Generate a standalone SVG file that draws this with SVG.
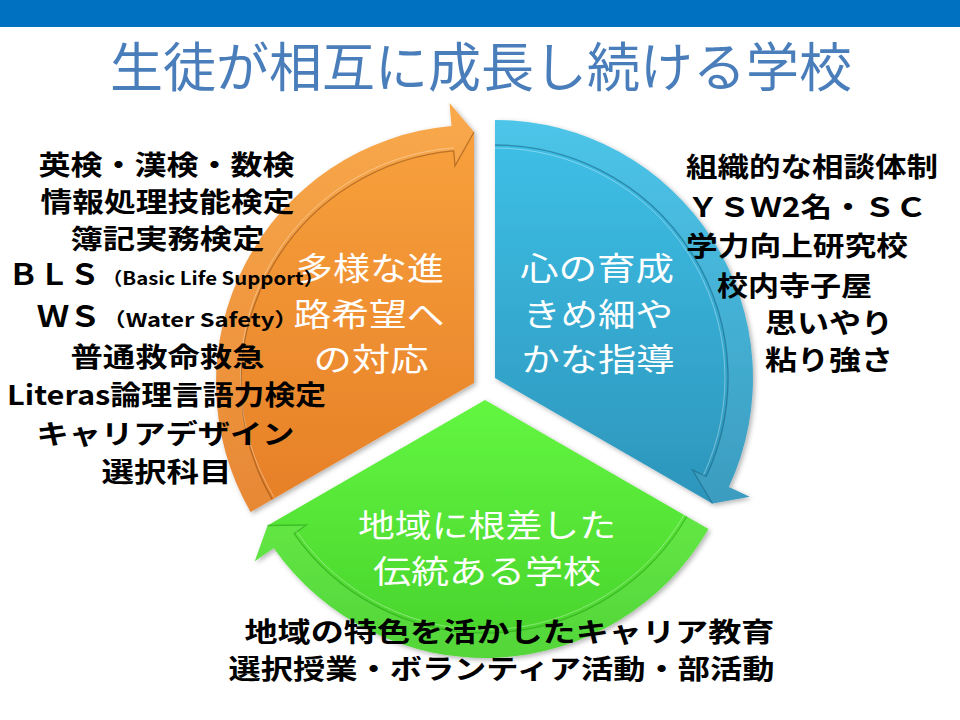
<svg xmlns="http://www.w3.org/2000/svg" width="960" height="720" viewBox="0 0 960 720">
<defs>
<linearGradient id="gOrange" x1="0" y1="0" x2="0" y2="1">
<stop offset="0" stop-color="#F9A33E"/><stop offset="1" stop-color="#E67F27"/>
</linearGradient>
<linearGradient id="gBlue" x1="0" y1="0" x2="0" y2="1">
<stop offset="0" stop-color="#3FC1E8"/><stop offset="1" stop-color="#2D95BB"/>
</linearGradient>
<linearGradient id="gGreen" x1="0" y1="0" x2="0" y2="1">
<stop offset="0" stop-color="#63F641"/><stop offset="1" stop-color="#47D22B"/>
</linearGradient>
<filter id="shadow" x="-10%" y="-10%" width="120%" height="120%">
<feDropShadow dx="2" dy="2" stdDeviation="2.5" flood-color="#000" flood-opacity="0.3"/>
</filter>
</defs>
<style>
.inner{fill:#fff;font-family:"Noto Sans CJK JP","Noto Sans",sans-serif;font-size:32px;text-anchor:middle}
.list{fill:#000;font-family:"Noto Sans CJK JP","Noto Sans",sans-serif;font-size:27px;font-weight:bold}
.big{font-size:29px}
.mid{text-anchor:middle}
.band{fill:#fff;fill-opacity:0.07}
.bevel{fill:none;stroke-width:1.3;stroke-opacity:0.55}
.hl{fill:none;stroke:#fff;stroke-width:1;stroke-opacity:0.35}
.title{fill:#4A7EBB;font-family:"Noto Sans CJK JP","Noto Sans",sans-serif;font-size:53px;text-anchor:middle}
</style>
<rect x="0" y="0" width="960" height="720" fill="#fff"/>
<rect x="0" y="0" width="960" height="27" fill="#0070C0"/>
<text class="title" x="481" y="87">生徒が相互に成長し続ける学校</text>

<g id="node-orange">
<path d="M474,383 L250.6,512 A258,258 0 0 1 451.5,126 L449.5,103.1 L474,132 Z" fill="url(#gOrange)" filter="url(#shadow)"/>
<path class="band" d="M250.6,512 A258,258 0 0 1 451.5,126 L449.5,103.1 L474,132 L455,165.8 L453.7,150.9 A233,233 0 0 0 272.2,499.5 Z"/>
<path class="bevel" stroke="#8A4A12" d="M272.2,499.5 A233,233 0 0 1 453.7,150.9 L455,165.8 L474,132"/>
<path class="hl" d="M274,497 A230,230 0 0 1 453.9,147.9"/>
<text class="inner" x="370" y="280" textLength="148" lengthAdjust="spacingAndGlyphs">多様な進</text>
<text class="inner" x="369" y="326" textLength="151" lengthAdjust="spacingAndGlyphs">路希望へ</text>
<text class="inner" x="371" y="371" textLength="115" lengthAdjust="spacingAndGlyphs">の対応</text>
</g>

<g id="node-blue">
<path d="M495,378 L495,120 A258,258 0 0 1 728.8,487 L749.7,496.8 L712.4,503.5 Z" fill="url(#gBlue)" filter="url(#shadow)"/>
<path class="band" d="M495,120 A258,258 0 0 1 728.8,487 L749.7,496.8 L712.4,503.5 L692.6,470.1 L706.2,476.5 A233,233 0 0 0 495,145 Z"/>
<path class="bevel" stroke="#17617E" d="M495,145 A233,233 0 0 1 706.2,476.5 L692.6,470.1 L712.4,503.5"/>
<path class="hl" d="M495,148 A230,230 0 0 1 703.5,475"/>
<text class="inner" x="597" y="280" textLength="154" lengthAdjust="spacingAndGlyphs">心の育成</text>
<text class="inner" x="598" y="326" textLength="150" lengthAdjust="spacingAndGlyphs">きめ細や</text>
<text class="inner" x="598" y="371" textLength="153" lengthAdjust="spacingAndGlyphs">かな指導</text>
</g>

<g id="node-green">
<path d="M485,400 L708.4,529 A258,258 0 0 1 273.7,548 L254.8,561.2 L267.6,525.5 Z" fill="url(#gGreen)" filter="url(#shadow)"/>
<path class="band" d="M708.4,529 A258,258 0 0 1 273.7,548 L254.8,561.2 L267.6,525.5 L306.4,525 L294.1,533.6 A233,233 0 0 0 686.8,516.5 Z"/>
<path class="bevel" stroke="#2A9A17" d="M686.8,516.5 A233,233 0 0 1 294.1,533.6 L306.4,525 L267.6,525.5"/>
<path class="hl" d="M684,515 A230,230 0 0 1 296.5,531.5"/>
<text class="inner" x="487" y="537" textLength="258" lengthAdjust="spacingAndGlyphs">地域に根差した</text>
<text class="inner" x="487" y="583" textLength="228" lengthAdjust="spacingAndGlyphs">伝統ある学校</text>
</g>

<g id="list-left" class="list">
<text class="mid" x="166.5" y="175" textLength="256" lengthAdjust="spacingAndGlyphs">英検・漢検・数検</text>
<text class="mid" x="167.5" y="212" textLength="254" lengthAdjust="spacingAndGlyphs">情報処理技能検定</text>
<text class="mid" x="167.5" y="249" textLength="194" lengthAdjust="spacingAndGlyphs">簿記実務検定</text>
<text x="8" y="285" class="big" textLength="92" lengthAdjust="spacingAndGlyphs">ＢＬＳ</text>
<text x="102" y="285" font-size="18" textLength="222" lengthAdjust="spacingAndGlyphs">（Basic Life Support）</text>
<text x="37" y="327" class="big" textLength="64" lengthAdjust="spacingAndGlyphs">ＷＳ</text>
<text x="102" y="327" font-size="19" textLength="196" lengthAdjust="spacingAndGlyphs">（Water Safety）</text>
<text class="mid" x="167.5" y="367" textLength="194" lengthAdjust="spacingAndGlyphs">普通救命救急</text>
<text class="mid" x="166.5" y="405" textLength="319" lengthAdjust="spacingAndGlyphs">Literas論理言語力検定</text>
<text class="mid" x="165.5" y="444" textLength="258" lengthAdjust="spacingAndGlyphs">キャリアデザイン</text>
<text class="mid" x="166.5" y="482" textLength="130" lengthAdjust="spacingAndGlyphs">選択科目</text>
</g>

<g id="list-right" class="list">
<text x="686" y="177" textLength="252" lengthAdjust="spacingAndGlyphs">組織的な相談体制</text>
<text x="687" y="217" textLength="240" lengthAdjust="spacingAndGlyphs">ＹＳＷ2名・ＳＣ</text>
<text x="686" y="256" textLength="222" lengthAdjust="spacingAndGlyphs">学力向上研究校</text>
<text x="717" y="296" textLength="155" lengthAdjust="spacingAndGlyphs">校内寺子屋</text>
<text x="765" y="333" textLength="128" lengthAdjust="spacingAndGlyphs">思いやり</text>
<text x="765" y="370" textLength="128" lengthAdjust="spacingAndGlyphs">粘り強さ</text>
</g>

<g id="list-bottom" class="list">
<text class="mid" x="509.5" y="642" textLength="530" lengthAdjust="spacingAndGlyphs">地域の特色を活かしたキャリア教育</text>
<text class="mid" x="501.5" y="679" textLength="546" lengthAdjust="spacingAndGlyphs">選択授業・ボランティア活動・部活動</text>
</g>
</svg>
